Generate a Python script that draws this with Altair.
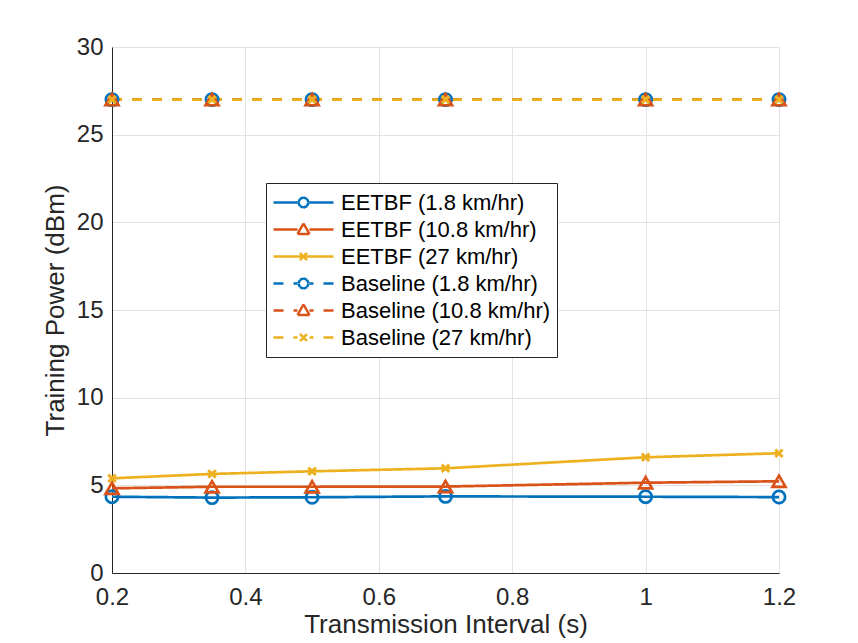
import altair as alt
import pandas as pd

# ---- data ----
x_vals = [0.2, 0.35, 0.5, 0.7, 1.0, 1.2]
eetbf_1_8 = [4.35, 4.30, 4.32, 4.37, 4.35, 4.33]
eetbf_10_8 = [4.83, 4.92, 4.92, 4.93, 5.15, 5.23]
eetbf_27 = [5.40, 5.65, 5.80, 5.97, 6.60, 6.83]
base_1_8 = [27.0, 27.0, 27.0, 27.0, 27.0, 27.0]
base_10_8 = [27.0, 27.0, 27.0, 27.0, 27.0, 27.0]
base_27 = [27.0, 27.0, 27.0, 27.0, 27.0, 27.0]

series_names = [
    "EETBF (1.8 km/hr)",
    "EETBF (10.8 km/hr)",
    "EETBF (27 km/hr)",
    "Baseline (1.8 km/hr)",
    "Baseline (10.8 km/hr)",
    "Baseline (27 km/hr)",
]
series_values = [eetbf_1_8, eetbf_10_8, eetbf_27, base_1_8, base_10_8, base_27]
series_colors = ["#0072BD", "#D95319", "#EDB120", "#0072BD", "#D95319", "#EDB120"]
series_dash = [[1, 0], [1, 0], [1, 0], [10, 10], [10, 10], [10, 10]]

x_ticks = [0.2, 0.4, 0.6, 0.8, 1.0, 1.2]
y_ticks = [0, 5, 10, 15, 20, 25, 30]

# marker shapes (unit coordinates)
x_path = "M-1,-1L1,1M-1,1L1,-1"
# legend symbols: line segment with marker in the middle.
# markers are split into short sub-paths so that dashing leaves them whole
seg_line = "M-1,0L-0.2,0M1,0L0.2,0"
seg_circle = (
    "M0.17,0L0.12,0.12M0.12,0.12L0,0.17M0,0.17L-0.12,0.12M-0.12,0.12L-0.17,0"
    "M-0.17,0L-0.12,-0.12M-0.12,-0.12L0,-0.17M0,-0.17L0.12,-0.12M0.12,-0.12L0.17,0"
)
seg_tri = (
    "M0,-0.2L0.1,-0.025M0.1,-0.025L0.2,0.15M0.2,0.15L0,0.15M0,0.15L-0.2,0.15"
    "M-0.2,0.15L-0.1,-0.025M-0.1,-0.025L0,-0.2"
)
seg_x = "M-0.12,-0.12L0.12,0.12M-0.12,0.12L0.12,-0.12"
leg_circle = seg_line + seg_circle
leg_tri = seg_line + seg_tri
leg_x = "M-1,0L1,0" + seg_x
legend_paths = [leg_circle, leg_tri, leg_x, leg_circle, leg_tri, seg_line + seg_x]

rows = []
for name, vals in zip(series_names, series_values):
    for xv, yv in zip(x_vals, vals):
        rows.append({"x": xv, "y": yv, "series": name})
df = pd.DataFrame(rows)

FONT = "Liberation Sans"
AX = "#262626"

x_enc = alt.X(
    "x:Q",
    scale=alt.Scale(domain=[0.2, 1.2], nice=False, zero=False),
    axis=alt.Axis(values=x_ticks, format="~g", title="Transmission Interval (s)"),
)
y_enc = alt.Y(
    "y:Q",
    scale=alt.Scale(domain=[0, 30], nice=False, zero=True),
    axis=alt.Axis(values=y_ticks, title="Training Power (dBm)"),
)
color_scale = alt.Scale(domain=series_names, range=series_colors)
dash_scale = alt.Scale(domain=series_names, range=series_dash)

base = alt.Chart(df)

lines = base.mark_line(strokeWidth=2.7, clip=False).encode(
    x=x_enc,
    y=y_enc,
    color=alt.Color("series:N", scale=color_scale, legend=None),
    strokeDash=alt.StrokeDash("series:N", scale=dash_scale, legend=None),
    order="x:Q",
)


def markers(names, shape, size, sw):
    return base.transform_filter(
        alt.FieldOneOfPredicate(field="series", oneOf=names)
    ).mark_point(shape=shape, size=size, filled=False, strokeWidth=sw, opacity=1).encode(
        x=x_enc,
        y=y_enc,
        color=alt.Color("series:N", scale=color_scale, legend=None),
    )


pts_c = markers([series_names[0], series_names[3]], "circle", 150, 2.7)
pts_t = markers([series_names[1], series_names[4]], "triangle-up", 170, 2.7)
pts_x = markers([series_names[2], series_names[5]], x_path, 55, 3)

leg_common = dict(
    title=None,
    orient="none",
    legendX=154,
    legendY=136,
    symbolSize=3600,
    symbolStrokeWidth=2.5,
    clipHeight=27,
    rowPadding=0,
    padding=6,
    labelOffset=6,
    symbolOffset=0,
    labelFont=FONT,
    labelFontSize=22,
    labelColor="#000000",
    strokeColor=AX,
    fillColor="white",
    labelLimit=400,
)

legend_layer = base.transform_filter("false").mark_point(
    filled=False, strokeWidth=2.5, opacity=1
).encode(
    x=x_enc,
    y=y_enc,
    color=alt.Color("series:N", scale=color_scale, legend=alt.Legend(**leg_common)),
    shape=alt.Shape(
        "series:N",
        scale=alt.Scale(domain=series_names, range=legend_paths),
        legend=alt.Legend(**leg_common),
    ),
    strokeDash=alt.StrokeDash("series:N", scale=dash_scale, legend=alt.Legend(**leg_common)),
)

chart = (
    alt.layer(lines, pts_c, pts_t, pts_x, legend_layer)
    .resolve_legend(color="independent", strokeDash="independent", shape="independent")
    .properties(
        width=667,
        height=526,
        autosize=alt.AutoSizeParams(type="none"),
        padding={"left": 104, "top": 39, "right": 71, "bottom": 70},
    )
    .configure_view(stroke=None)
    .configure_axis(
        domainColor=AX,
        domainWidth=1,
        ticks=False,
        gridColor="#e3e3e3",
        gridWidth=1,
        labelFont=FONT,
        labelFontSize=24,
        labelColor=AX,
        labelFlush=False,
        titleFont=FONT,
        titleFontSize=26,
        titleFontWeight="normal",
        titleColor=AX,
    )
    .configure_axisX(labelPadding=12, titlePadding=2)
    .configure_axisY(labelPadding=9, titlePadding=8)
)

chart.save("out.html", embed_options={"renderer": "svg", "actions": False})
